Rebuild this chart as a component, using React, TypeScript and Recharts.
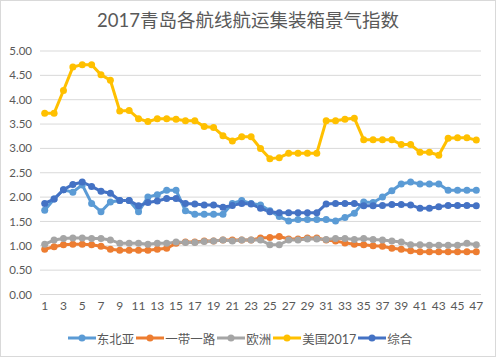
import React from "react";
import { LineChart, Line, XAxis, YAxis, CartesianGrid, Legend } from "recharts";

const weeks = [
  "1", "2", "3", "4", "5", "6", "7", "8", "9", "10", "11", "12", "13", "14", "15", "16",
  "17", "18", "19", "20", "21", "22", "23", "24", "25", "26", "27", "28", "29", "30", "31", "32",
  "33", "34", "35", "36", "37", "38", "39", "40", "41", "42", "43", "44", "45", "46", "47",
];

const northeastAsia = [
  1.73, 1.96, 2.15, 2.1, 2.25, 1.87, 1.7, 1.9, 1.93, 1.93, 1.7, 2.0, 2.05, 2.14, 2.14, 1.72,
  1.65, 1.65, 1.65, 1.65, 1.87, 1.93, 1.87, 1.84, 1.72, 1.6, 1.51, 1.54, 1.54, 1.54, 1.54, 1.51,
  1.58, 1.67, 1.9, 1.89, 2.0, 2.13, 2.27, 2.31, 2.27, 2.27, 2.27, 2.14, 2.14, 2.14, 2.14,
];

const beltRoad = [
  0.93, 0.98, 1.02, 1.03, 1.03, 1.02, 0.99, 0.93, 0.91, 0.91, 0.91, 0.91, 0.93, 0.95, 1.05, 1.08,
  1.08, 1.1, 1.1, 1.12, 1.12, 1.12, 1.12, 1.16, 1.17, 1.19, 1.14, 1.14, 1.16, 1.16, 1.12, 1.1,
  1.06, 1.03, 1.02, 1.0, 0.99, 0.95, 0.93, 0.9, 0.88, 0.88, 0.88, 0.88, 0.88, 0.88, 0.88,
];

const europe = [
  1.03, 1.12, 1.15, 1.16, 1.16, 1.15, 1.15, 1.12, 1.05, 1.05, 1.05, 1.03, 1.05, 1.05, 1.08, 1.07,
  1.07, 1.09, 1.1, 1.12, 1.1, 1.12, 1.12, 1.12, 1.02, 1.02, 1.12, 1.12, 1.14, 1.14, 1.13, 1.15,
  1.15, 1.13, 1.15, 1.13, 1.12, 1.1, 1.08, 1.02, 1.02, 1.01, 1.01, 1.01, 1.01, 1.05, 1.02,
];

const usa2017 = [
  3.72, 3.72, 4.19, 4.67, 4.72, 4.72, 4.51, 4.4, 3.77, 3.78, 3.61, 3.55, 3.61, 3.61, 3.6, 3.57,
  3.57, 3.45, 3.43, 3.26, 3.15, 3.24, 3.24, 3.0, 2.79, 2.81, 2.9, 2.9, 2.9, 2.9, 3.57, 3.57,
  3.6, 3.62, 3.18, 3.18, 3.18, 3.18, 3.08, 3.08, 2.92, 2.92, 2.86, 3.21, 3.22, 3.22, 3.17,
];

const composite = [
  1.87, 1.96, 2.15, 2.26, 2.31, 2.22, 2.12, 2.08, 1.93, 1.93, 1.82, 1.89, 1.92, 1.97, 1.97, 1.87,
  1.86, 1.84, 1.84, 1.79, 1.83, 1.87, 1.86, 1.77, 1.7, 1.68, 1.68, 1.68, 1.68, 1.68, 1.86, 1.87,
  1.87, 1.87, 1.82, 1.82, 1.83, 1.85, 1.85, 1.84, 1.77, 1.77, 1.8, 1.83, 1.83, 1.83, 1.82,
];

const yTicks = [0, 0.5, 1, 1.5, 2, 2.5, 3, 3.5, 4, 4.5, 5];

const series = [
  { key: "ne", name: "东北亚", color: "#5B9BD5" },
  { key: "br", name: "一带一路", color: "#ED7D31" },
  { key: "eu", name: "欧洲", color: "#A5A5A5" },
  { key: "us", name: "美国2017", color: "#FFC000" },
  { key: "all", name: "综合", color: "#4472C4" },
];

const data = weeks.map((w, i) => ({
  week: w,
  ne: northeastAsia[i],
  br: beltRoad[i],
  eu: europe[i],
  us: usa2017[i],
  all: composite[i],
}));

const FONT = "Lato, 'Noto Sans CJK SC', sans-serif";
const TEXT = "#595959";

function LegendRow() {
  return (
    <div
      style={{
        display: "flex",
        justifyContent: "center",
        alignItems: "center",
        height: 36,
        fontFamily: FONT,
        fontSize: 12.5,
        color: TEXT,
      }}
    >
      {series.map((s) => (
        <div key={s.key} style={{ display: "flex", alignItems: "center", marginRight: 2 }}>
          <svg width={28} height={10} style={{ marginRight: 1 }}>
            <line x1={0} y1={5} x2={28} y2={5} stroke={s.color} strokeWidth={3} />
            <circle cx={14} cy={5} r={3.5} fill={s.color} />
          </svg>
          <span>{s.name}</span>
        </div>
      ))}
    </div>
  );
}

export default function App() {
  return (
    <div
      style={{
        position: "absolute",
        left: 0,
        top: 0,
        width: 496,
        height: 357,
        boxSizing: "border-box",
        border: "1px solid #d9d9d9",
        background: "#fff",
      }}
    >
      <div
        style={{
          position: "absolute",
          top: 7,
          left: 0,
          width: 494,
          textAlign: "center",
          fontFamily: FONT,
          fontSize: 18.5,
          color: TEXT,
          lineHeight: "24px",
        }}
      >
        2017青岛各航线航运集装箱景气指数
      </div>
      <LineChart width={494} height={355} data={data} margin={{ top: 50, right: 14, left: 0, bottom: 0 }}>
        <CartesianGrid vertical={false} stroke="#d9d9d9" />
        <XAxis
          dataKey="week"
          interval={1}
          padding={{ left: 4.7, right: 4.7 }}
          height={25.5}
          tickSize={0}
          tickMargin={7}
          axisLine={{ stroke: "#d9d9d9" }}
          tick={{ fill: TEXT, fontSize: 12, fontFamily: FONT }}
        />
        <YAxis
          domain={[0, 5]}
          ticks={yTicks}
          width={39}
          tickSize={0}
          tickMargin={8}
          axisLine={false}
          tickFormatter={(v: number) => v.toFixed(2)}
          tick={{ fill: TEXT, fontSize: 11.5, fontFamily: FONT }}
        />
        <Legend verticalAlign="bottom" height={36} content={() => <LegendRow />} />
        {series.map((s) => (
          <Line
            key={s.key}
            type="linear"
            dataKey={s.key}
            name={s.name}
            stroke={s.color}
            strokeWidth={3}
            dot={{ r: 3.5, fill: s.color, stroke: s.color, strokeWidth: 0 }}
            activeDot={false}
            isAnimationActive={false}
          />
        ))}
      </LineChart>
    </div>
  );
}
